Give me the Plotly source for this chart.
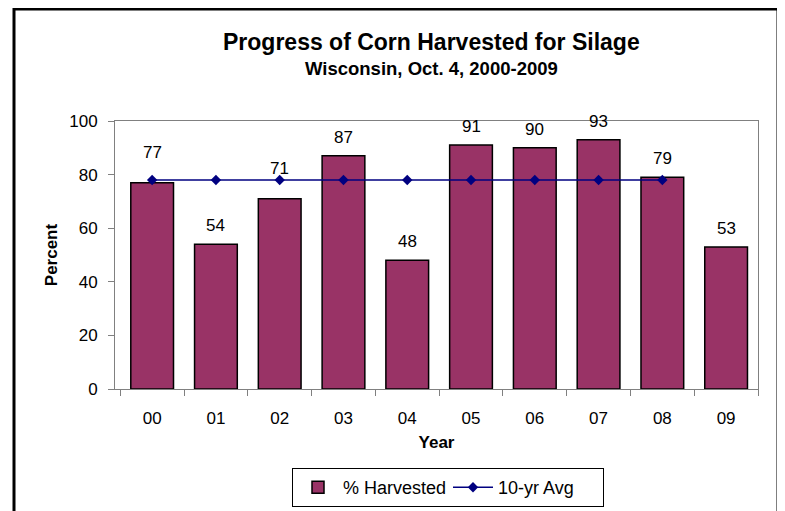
import plotly.graph_objects as go

years = ["00", "01", "02", "03", "04", "05", "06", "07", "08", "09"]
harvested = [77, 54, 71, 87, 48, 91, 90, 93, 79, 53]
avg_years = ["00", "01", "02", "03", "04", "05", "06", "07", "08"]
avg_values = [78, 78, 78, 78, 78, 78, 78, 78, 78]

W, H = 785, 511
OFF = 8  # page body margin offset
L, T = 115 - OFF, 121 - OFF
pw, ph = 643, 268
R = W - L - pw
B = H - T - ph

def px(x):
    return (x - OFF - L) / pw

def py(y):
    return (T + ph - (y - OFF)) / ph

FONT = "Liberation Sans, Arial"

fig = go.Figure()
fig.add_trace(go.Bar(
    x=years, y=harvested, name="% Harvested",
    marker=dict(color="#993366", line=dict(color="black", width=1.5)),
))
fig.add_trace(go.Scatter(
    x=avg_years, y=avg_values, name="10-yr Avg", mode="lines+markers",
    line=dict(color="#000080", width=1.5),
    marker=dict(symbol="diamond", size=8, color="#000080"),
))

avg_lookup = dict(zip(avg_years, avg_values))
annotations = []
for yr, v in zip(years, harvested):
    shift = 7
    a = avg_lookup.get(yr)
    if a is not None and 0 < a - v < 10:
        shift = 19
    annotations.append(dict(x=yr, y=v, xref="x", yref="y", text=str(v), showarrow=False,
                            yanchor="bottom", yshift=shift,
                            font=dict(size=17, color="black")))
annotations += [
    dict(text="<b>Progress of Corn Harvested for Silage</b>", x=px(431), y=py(42),
         xref="paper", yref="paper", showarrow=False, font=dict(size=23),
         xanchor="center", yanchor="middle"),
    dict(text="<b>Wisconsin, Oct. 4, 2000-2009</b>", x=px(431), y=py(68),
         xref="paper", yref="paper", showarrow=False, font=dict(size=18.5),
         xanchor="center", yanchor="middle"),
]

fig.update_layout(
    width=W, height=H,
    margin=dict(l=L, r=R, t=T, b=B, autoexpand=False),
    paper_bgcolor="white", plot_bgcolor="white",
    font=dict(family=FONT, size=17, color="black"),
    bargap=0.33,
    showlegend=True,
    legend=dict(orientation="h", x=px(292), y=py(468), xanchor="left", yanchor="top",
                bordercolor="black", borderwidth=1, font=dict(size=18),
                itemwidth=40, entrywidth=100, tracegroupgap=0),
    annotations=annotations,
    shapes=[
        dict(type="rect", xref="paper", yref="paper",
             x0=px(14), x1=px(778), y0=py(540), y1=py(9),
             line=dict(color="black", width=3), fillcolor="rgba(0,0,0,0)", layer="above"),
    ],
)
fig.update_xaxes(
    type="category", showline=True, linecolor="#808080", linewidth=1, mirror=True,
    ticks="outside", tickson="boundaries", ticklen=6, tickcolor="#808080",
    ticklabelstandoff=14,
    title=dict(text="<b>Year</b>", font=dict(size=17), standoff=8),
    tickfont=dict(size=17),
)
fig.update_yaxes(
    range=[0, 100], dtick=20, showgrid=False, zeroline=False,
    showline=True, linecolor="#808080", linewidth=1, mirror=True,
    ticks="outside", ticklen=6, tickcolor="#808080",
    ticklabelstandoff=7,
    title=dict(text="<b>Percent</b>", font=dict(size=17), standoff=7),
    tickfont=dict(size=17),
)
fig.write_html("out.html")
